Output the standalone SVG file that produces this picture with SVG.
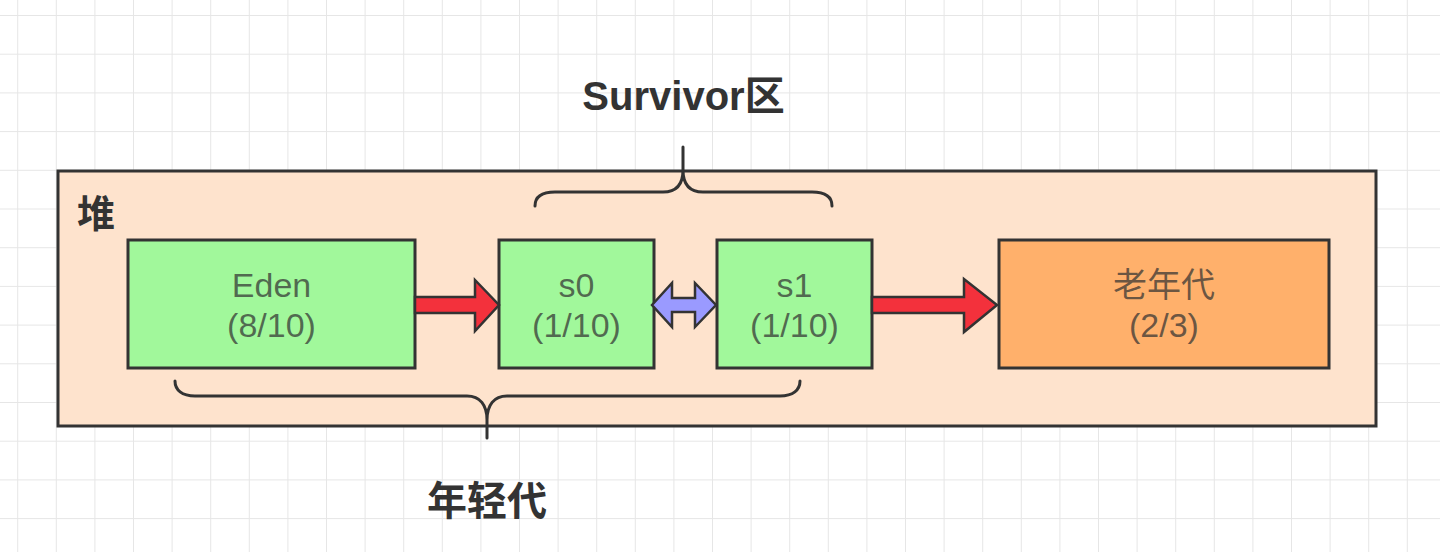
<svg xmlns="http://www.w3.org/2000/svg" width="1440" height="552" viewBox="0 0 1440 552">
<style>
.box{stroke:#333;stroke-width:3}
.green{fill:#a1f89b}
.old{fill:#ffb06b}
.lbl{font-family:"Liberation Sans","Noto Sans CJK SC",sans-serif;font-size:34px;fill:#333;fill-opacity:0.72;text-anchor:middle}
.title{font-family:"Liberation Sans","Noto Sans CJK SC",sans-serif;font-weight:bold;fill:#333;text-anchor:middle}
.brace{fill:none;stroke:#333;stroke-width:3;stroke-linecap:round;stroke-linejoin:round}
.arrow{stroke:#333;stroke-width:2.5;stroke-linejoin:miter}
</style>
<defs>
<pattern id="grid" patternUnits="userSpaceOnUse" x="17.2" y="15" width="38.6" height="38.7">
<path d="M0,0 H38.6 M0,0 V38.7" stroke="#e6e6e6" stroke-width="2" fill="none"/>
</pattern>
</defs>
<rect width="1440" height="552" fill="#ffffff"/>
<rect width="1440" height="552" fill="url(#grid)"/>

<g id="heap">
<rect class="box" x="58" y="171" width="1318" height="255" fill="#fee3cd"/>
<text class="title" x="96" y="227" font-size="38">堆</text>
</g>

<g id="eden">
<rect class="box green" x="128" y="240" width="287" height="128"/>
<text class="lbl" x="271.5" y="297">Eden</text>
<text class="lbl" x="271.5" y="337">(8/10)</text>
</g>

<g id="s0">
<rect class="box green" x="499" y="240" width="155" height="128"/>
<text class="lbl" x="576.5" y="297">s0</text>
<text class="lbl" x="576.5" y="337">(1/10)</text>
</g>

<g id="s1">
<rect class="box green" x="717" y="240" width="155" height="128"/>
<text class="lbl" x="794.5" y="297">s1</text>
<text class="lbl" x="794.5" y="337">(1/10)</text>
</g>

<g id="old">
<rect class="box old" x="999" y="240" width="330" height="128"/>
<text class="lbl" x="1164" y="297">老年代</text>
<text class="lbl" x="1164" y="337">(2/3)</text>
</g>

<g id="connectors">
<path class="arrow" fill="#f3313c" d="M415,297 L475,297 L475,280 L499,305 L475,331 L475,313 L415,313 Z"/>
<path class="arrow" fill="#9a9aff" d="M652,305 L672,283 L672,298 L695,298 L695,283 L716,305 L695,327 L695,312 L672,312 L672,327 Z"/>
<path class="arrow" fill="#f3313c" d="M872,297 L964,297 L964,279 L997,305 L964,332 L964,313 L872,313 Z"/>
</g>

<g id="survivor-brace">
<path class="brace" d="M535,206 C535,197 542,192 555,192 L663,192 C676,192 683,185 683,170 L683,147 M683,170 C683,185 690,192 703,192 L812,192 C825,192 832,197 832,206"/>
<text class="title" x="683.5" y="110" font-size="40">Survivor区</text>
</g>

<g id="young-brace">
<path class="brace" d="M175,381 C175,390 182,396 195,396 L467,396 C480,396 487,405 487,420 L487,438 M487,420 C487,405 494,396 507,396 L780,396 C793,396 800,390 800,381"/>
<text class="title" x="487" y="515" font-size="40">年轻代</text>
</g>
</svg>
